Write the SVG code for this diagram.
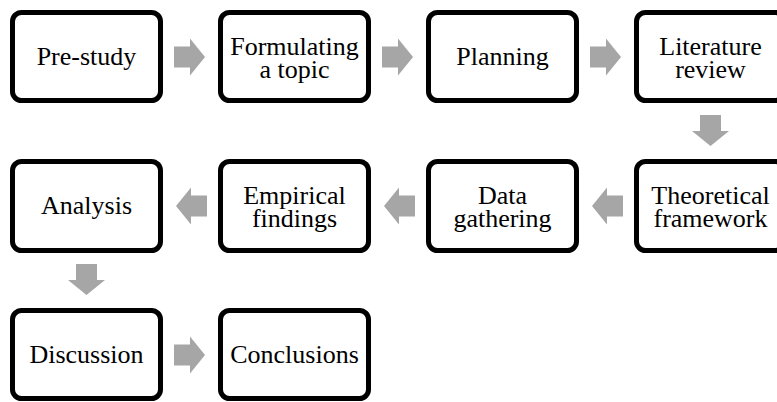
<svg xmlns="http://www.w3.org/2000/svg" xmlns:xlink="http://www.w3.org/1999/xlink" width="777" height="402" viewBox="0 0 777 402">
  <style>
    .box { fill: #ffffff; stroke: #000000; stroke-width: 5; }
    .lbl { font-family: "Liberation Serif", "Times New Roman", serif; font-size: 26px; fill: #000000; text-anchor: middle; }
    .arr { fill: #a6a6a6; }
  </style>
  <defs>
    <!-- block arrow pointing right, origin at the middle of the tail -->
    <path id="blk" d="M0,-10.5 H16 V-18.5 L31,0 L16,18.5 V10.5 H0 Z"/>
  </defs>
  <rect width="777" height="402" fill="#ffffff"/>

  <g id="connectors" class="arr">
    <use xlink:href="#blk" href="#blk" transform="translate(174,57)"/>
    <use xlink:href="#blk" href="#blk" transform="translate(382,57)"/>
    <use xlink:href="#blk" href="#blk" transform="translate(590,57)"/>
    <use xlink:href="#blk" href="#blk" transform="translate(710.5,115) rotate(90)"/>
    <use xlink:href="#blk" href="#blk" transform="translate(623,206) rotate(180)"/>
    <use xlink:href="#blk" href="#blk" transform="translate(415,206) rotate(180)"/>
    <use xlink:href="#blk" href="#blk" transform="translate(207,206) rotate(180)"/>
    <use xlink:href="#blk" href="#blk" transform="translate(86.5,264) rotate(90)"/>
    <use xlink:href="#blk" href="#blk" transform="translate(174,355)"/>
  </g>

  <g id="pre-study">
    <rect class="box" x="12.5" y="12.5" width="148" height="88" rx="9"/>
    <text class="lbl" x="86.5" y="65">Pre-study</text>
  </g>
  <g id="formulating-topic">
    <rect class="box" x="220.5" y="12.5" width="148" height="88" rx="9"/>
    <text class="lbl" x="294.5" y="54.5">Formulating<tspan x="294.5" dy="23">a topic</tspan></text>
  </g>
  <g id="planning">
    <rect class="box" x="428.5" y="12.5" width="148" height="88" rx="9"/>
    <text class="lbl" x="502.5" y="65">Planning</text>
  </g>
  <g id="literature-review">
    <rect class="box" x="636.5" y="12.5" width="148" height="88" rx="9"/>
    <text class="lbl" x="710.5" y="54.5">Literature<tspan x="710.5" dy="23">review</tspan></text>
  </g>

  <g id="analysis">
    <rect class="box" x="12.5" y="161.5" width="148" height="89" rx="9"/>
    <text class="lbl" x="86.5" y="214">Analysis</text>
  </g>
  <g id="empirical-findings">
    <rect class="box" x="220.5" y="161.5" width="148" height="89" rx="9"/>
    <text class="lbl" x="294.5" y="204">Empirical<tspan x="294.5" dy="23">findings</tspan></text>
  </g>
  <g id="data-gathering">
    <rect class="box" x="428.5" y="161.5" width="148" height="89" rx="9"/>
    <text class="lbl" x="502.5" y="204">Data<tspan x="502.5" dy="23">gathering</tspan></text>
  </g>
  <g id="theoretical-framework">
    <rect class="box" x="636.5" y="161.5" width="148" height="89" rx="9"/>
    <text class="lbl" x="710.5" y="204">Theoretical<tspan x="710.5" dy="23">framework</tspan></text>
  </g>

  <g id="discussion">
    <rect class="box" x="12.5" y="310.5" width="148" height="88" rx="9"/>
    <text class="lbl" x="86.5" y="362.5">Discussion</text>
  </g>
  <g id="conclusions">
    <rect class="box" x="220.5" y="310.5" width="148" height="88" rx="9"/>
    <text class="lbl" x="294.5" y="362.5">Conclusions</text>
  </g>
</svg>
